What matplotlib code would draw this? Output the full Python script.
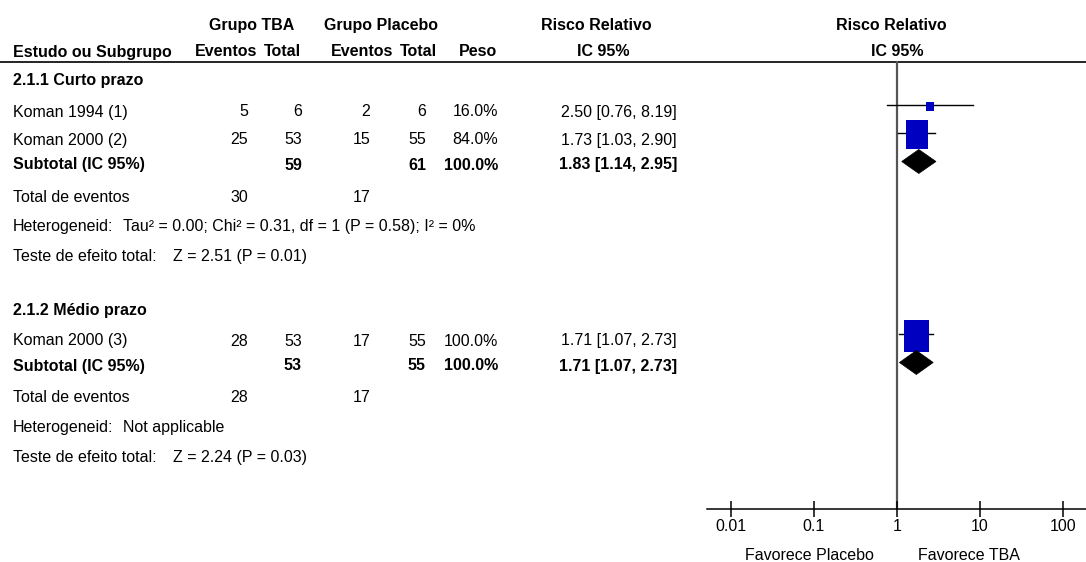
import matplotlib
matplotlib.use("Agg")
import matplotlib.pyplot as plt
from matplotlib.patches import Rectangle, Polygon
from matplotlib.ticker import NullLocator

plt.rcParams['font.family'] = ['Liberation Sans', 'DejaVu Sans']

# Study-level data
studies = ["Koman 1994 (1)", "Koman 2000 (2)", "Koman 2000 (3)"]
tba_events = [5, 25, 28]
tba_total = [6, 53, 53]
plc_events = [2, 15, 17]
plc_total = [6, 55, 55]
weights = [16.0, 84.0, 100.0]
rr = [2.50, 1.73, 1.71]
rr_lo = [0.76, 1.03, 1.07]
rr_hi = [8.19, 2.90, 2.73]

# Subgroup data
subgroups = ["2.1.1 Curto prazo", "2.1.2 Médio prazo"]
members = [[0, 1], [2]]
sub_tba_total = [59, 53]
sub_plc_total = [61, 55]
sub_weight = [100.0, 100.0]
sub_rr = [1.83, 1.71]
sub_lo = [1.14, 1.07]
sub_hi = [2.95, 2.73]
sub_tba_events = [30, 28]
sub_plc_events = [17, 17]
heterog = ["Tau² = 0.00; Chi² = 0.31, df = 1 (P = 0.58); I² = 0%", "Not applicable"]
overall_test = ["Z = 2.51 (P = 0.01)", "Z = 2.24 (P = 0.03)"]

tick_vals = [0.01, 0.1, 1, 10, 100]
tick_labels = ["0.01", "0.1", "1", "10", "100"]

# Figure in pixel units
W, H = 1086, 562
fig = plt.figure(figsize=(W / 100, H / 100), dpi=100)
tx = fig.add_axes([0, 0, 1, 1])
tx.set_xlim(0, W)
tx.set_ylim(H, 0)
tx.axis('off')

FS = 11.5
AX_L, AX_R, AX_TOP, AX_BOT = 707, W, 61, 509
LOG_LO, LOG_HI = -2.289, 2.277

fx = fig.add_axes([AX_L / W, (H - AX_BOT) / H, (AX_R - AX_L) / W, (AX_BOT - AX_TOP) / H])
fx.patch.set_alpha(0)
fx.set_xscale('log')
fx.set_xlim(10 ** LOG_LO, 10 ** LOG_HI)
fx.set_ylim(AX_BOT, AX_TOP)
for s in ['top', 'left', 'right']:
    fx.spines[s].set_visible(False)
fx.spines['bottom'].set_linewidth(1.1)
fx.set_xticks(tick_vals)
fx.set_xticklabels(tick_labels)
fx.xaxis.set_minor_locator(NullLocator())
fx.set_yticks([])
fx.tick_params(axis='x', direction='inout', length=11, width=1.1, pad=2, labelsize=FS)
fx.axvline(1, color='#555555', lw=1.6, zorder=1)

dpd = (AX_R - AX_L) / (LOG_HI - LOG_LO)  # pixels per decade


def txt(x, y, s, ha='left', bold=False):
    tx.text(x, y, s, ha=ha, va='baseline', fontsize=FS,
            fontweight='bold' if bold else 'normal', color='black')


# Column headers
txt(252, 30, "Grupo TBA", 'center', True)
txt(381, 30, "Grupo Placebo", 'center', True)
txt(596, 30, "Risco Relativo", 'center', True)
txt(891, 30, "Risco Relativo", 'center', True)
txt(13, 56.5, "Estudo ou Subgrupo", bold=True)
txt(195, 56.5, "Eventos", bold=True)
txt(301, 56.5, "Total", 'right', True)
txt(331, 56.5, "Eventos", bold=True)
txt(437, 56.5, "Total", 'right', True)
txt(497, 56.5, "Peso", 'right', True)
txt(603, 56.5, "IC 95%", 'center', True)
txt(897, 56.5, "IC 95%", 'center', True)
tx.plot([0, W], [61.5, 61.5], color='black', lw=1.2)

# column right edges
C_TE, C_TT, C_PE, C_PT, C_W, C_RR = 248, 302, 370, 426, 498, 677

y = 85.5
for g, name in enumerate(subgroups):
    txt(13, y, name, bold=True)
    y += 31
    for k, i in enumerate(members[g]):
        if k > 0:
            y += 28
        txt(13, y, studies[i])
        txt(C_TE, y, str(tba_events[i]), 'right')
        txt(C_TT, y, str(tba_total[i]), 'right')
        txt(C_PE, y, str(plc_events[i]), 'right')
        txt(C_PT, y, str(plc_total[i]), 'right')
        txt(C_W, y, f"{weights[i]:.1f}%", 'right')
        txt(C_RR, y, f"{rr[i]:.2f} [{rr_lo[i]:.2f}, {rr_hi[i]:.2f}]", 'right')
        # CI line and weighted box
        yl = y - 11.5
        fx.plot([rr_lo[i], rr_hi[i]], [yl, yl], color='black', lw=1.0, zorder=2)
        bw = 25 * (weights[i] / 100) ** 0.65
        bh = bw * 1.28
        f = 10 ** (bw / 2 / dpd)
        fx.add_patch(Rectangle((rr[i] / f, yl + 1.5 - bh / 2), rr[i] * f - rr[i] / f, bh,
                               facecolor='#0000c0', edgecolor='none', zorder=3))
    y += 25
    txt(13, y, "Subtotal (IC 95%)", bold=True)
    txt(C_TT, y, str(sub_tba_total[g]), 'right', True)
    txt(C_PT, y, str(sub_plc_total[g]), 'right', True)
    txt(C_W, y, f"{sub_weight[g]:.1f}%", 'right', True)
    txt(C_RR, y, f"{sub_rr[g]:.2f} [{sub_lo[g]:.2f}, {sub_hi[g]:.2f}]", 'right', True)
    yd = y - 8
    fx.add_patch(Polygon([(sub_lo[g], yd), (sub_rr[g], yd - 12), (sub_hi[g], yd), (sub_rr[g], yd + 12)],
                         closed=True, facecolor='black', edgecolor='black', lw=0.5, zorder=3))
    y += 32
    txt(13, y, "Total de eventos")
    txt(C_TE, y, str(sub_tba_events[g]), 'right')
    txt(C_PE, y, str(sub_plc_events[g]), 'right')
    y += 29.5
    txt(13, y, "Heterogeneid:")
    txt(123, y, heterog[g])
    y += 30
    txt(13, y, "Teste de efeito total:")
    txt(173, y, overall_test[g])
    y += 53.5

# Favours labels under the axis
txt(809, 560, "Favorece Placebo", 'center')
txt(969, 560, "Favorece TBA", 'center')

fig.savefig("out.png", dpi=100)
